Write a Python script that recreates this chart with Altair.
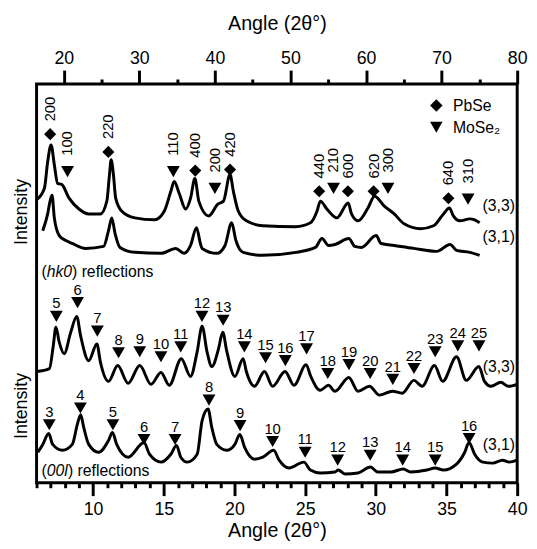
import altair as alt
import pandas as pd

FONT = "Liberation Sans"

# ---------------- (hk0) panel, top axis ----------------
hk0_33_angle = [16.5, 17.44, 17.87, 18.32, 18.75, 19.18, 19.72, 20.70, 22.01, 23.31,
                24.84, 25.70, 26.05, 26.27, 26.57, 26.87, 27.65, 29.40, 32.01, 33.31,
                34.17, 34.61, 35.27, 36.13, 36.78, 37.35, 37.87, 39.18, 40.39, 41.13,
                42.0, 42.44, 43.09, 44.17, 46.35, 50.69, 52.65, 53.52, 53.95, 54.82,
                56.13, 57.64, 58.08, 58.94, 60.25, 61.12, 62.42, 63.73, 65.03, 67.21,
                68.94, 70.25, 71.03, 71.55, 72.42, 73.73, 74.38, 75.03]
hk0_33_int = [288, 299, 326, 343, 323, 304, 303, 289, 278, 273,
              273, 286, 313, 328, 313, 289, 276, 269, 267, 276,
              296, 306, 294, 278, 289, 309, 286, 271, 283, 286,
              313, 296, 276, 266, 261, 260, 264, 276, 286, 278,
              269, 284, 273, 266, 279, 291, 281, 273, 263, 258,
              261, 273, 279, 271, 266, 268, 267, 264]

hk0_31_angle = [17.22, 17.87, 18.19, 18.45, 18.75, 19.40, 20.27, 21.13, 22.88, 25.27,
                25.92, 26.35, 26.79, 27.44, 29.40, 32.87, 34.82, 35.92, 36.78, 37.56,
                38.08, 38.30, 40.26, 41.34, 42.22, 42.78, 43.74, 46.35, 50.69, 53.30,
                54.17, 55.03, 55.90, 57.73, 58.51, 59.39, 61.34, 61.99, 63.73, 66.33,
                69.37, 71.12, 71.98, 73.73, 75.03]
hk0_31_int = [256, 273, 286, 292, 269, 251, 246, 243, 238, 240,
              256, 269, 253, 239, 234, 233, 238, 233, 241, 259,
              243, 238, 233, 241, 264, 246, 234, 231, 234, 239,
              248, 241, 242, 248, 240, 239, 251, 243, 241, 238,
              235, 242, 236, 234, 231]

pbse_angle = [18.2, 25.9, 37.4, 42.0, 53.8, 57.6, 61.0, 70.9]
pbse_int = [354, 336, 317, 318, 296, 296, 296, 289]
pbse_hkl = ["200", "220", "400", "420", "440", "600", "620", "640"]

mose2_hk0_angle = [20.5, 34.5, 40.0, 55.7, 62.9, 73.5]
mose2_hk0_int = [316, 316, 299, 299, 299, 288]
mose2_hk0_hkl = ["100", "110", "200", "210", "300", "310"]

# ---------------- (00l) panel, bottom axis ----------------
l00_33_angle = [6.0, 6.91, 7.18, 7.37, 7.60, 7.95, 8.42, 8.84, 9.12, 9.69,
                10.27, 10.51, 11.09, 11.74, 12.48, 13.30, 14.10, 14.80, 15.39, 16.24,
                16.89, 17.36, 17.71, 18.06, 18.40, 18.87, 19.17, 19.45, 20.03, 20.61,
                20.84, 21.42, 22.12, 22.70, 23.58, 24.21, 25.07, 25.37, 26.07, 26.65,
                27.11, 28.09, 28.74, 29.55, 30.25, 31.18, 31.87, 32.69, 33.27, 34.15,
                34.73, 35.71, 36.40, 37.29, 37.69, 38.15, 38.84, 39.38, 40.0]
l00_33_int = [113, 116, 139, 158, 143, 131, 153, 169, 149, 124,
              141, 123, 103, 119, 101, 119, 100, 112, 99, 126,
              108, 133, 159, 133, 118, 136, 153, 134, 108, 126,
              113, 98, 113, 98, 113, 99, 120, 109, 94, 99,
              93, 107, 93, 98, 89, 93, 91, 104, 98, 119,
              103, 128, 104, 118, 103, 98, 102, 98, 100]

l00_31_angle = [6.09, 6.44, 6.86, 7.14, 7.83, 8.53, 8.88, 9.12, 9.34, 9.69,
                10.39, 11.09, 11.37, 11.67, 12.48, 13.60, 13.99, 14.80, 15.50, 15.90,
                16.20, 16.66, 17.36, 17.71, 18.13, 18.40, 18.75, 19.45, 20.03, 20.38,
                20.72, 21.42, 22.01, 22.77, 23.16, 23.86, 24.91, 25.37, 26.07, 27.11,
                27.34, 27.81, 28.74, 29.62, 30.13, 31.07, 31.94, 32.46, 33.62, 34.20,
                34.78, 35.71, 36.29, 36.59, 36.99, 37.57, 38.27, 38.96, 39.43, 40.0]
l00_31_int = [31, 39, 50, 39, 33, 39, 59, 69, 56, 39,
              31, 43, 51, 39, 26, 41, 29, 21, 29, 38,
              26, 21, 29, 63, 75, 56, 39, 33, 39, 49,
              36, 24, 26, 33, 23, 15, 21, 13, 10, 11,
              13, 9, 10, 16, 11, 11, 14, 11, 13, 15,
              13, 19, 31, 41, 29, 21, 20, 23, 21, 23]

l33_mark_angle = [7.4, 8.9, 10.3, 11.8, 13.3, 14.8, 16.2, 17.7, 19.2, 20.7, 22.2,
                  23.6, 25.1, 26.6, 28.1, 29.6, 31.2, 32.7, 34.2, 35.8, 37.3]
l33_mark_int = [169, 183, 154, 132, 133, 128, 138, 169, 165, 138, 127,
                124, 136, 111, 120, 111, 105, 116, 133, 139, 139]
l33_mark_l = [str(v) for v in range(5, 26)]

l31_mark_angle = [6.9, 9.1, 11.4, 13.6, 15.8, 18.2, 20.4, 22.7, 25.0, 27.3, 29.6, 31.9, 34.2, 36.6]
l31_mark_int = [59, 76, 59, 44, 44, 84, 58, 42, 31, 23, 28, 23, 23, 45]
l31_mark_l = [str(v) for v in range(3, 17)]

# ---------------- build tables ----------------
def curves(a1, i1, a2, i2):
    return pd.concat([
        pd.DataFrame({"angle": a1, "intensity": i1, "sample": "(3,3)"}),
        pd.DataFrame({"angle": a2, "intensity": i2, "sample": "(3,1)"}),
    ])

top_curves = curves(hk0_33_angle, hk0_33_int, hk0_31_angle, hk0_31_int)
bot_curves = curves(l00_33_angle, l00_33_int, l00_31_angle, l00_31_int)
pbse_df = pd.DataFrame({"angle": pbse_angle, "intensity": pbse_int, "lab": pbse_hkl})
mose_top_df = pd.DataFrame({"angle": mose2_hk0_angle, "intensity": mose2_hk0_int, "lab": mose2_hk0_hkl})
mose_bot_df = pd.concat([
    pd.DataFrame({"angle": l33_mark_angle, "intensity": l33_mark_int, "lab": l33_mark_l}),
    pd.DataFrame({"angle": l31_mark_angle, "intensity": l31_mark_int, "lab": l31_mark_l}),
])

TITLE = "Angle (2θ°)"

top_axis = alt.Axis(
    orient="top", values=list(range(20, 81, 5)),
    labelExpr="datum.value % 10 === 0 ? datum.label : ''",
    tickSize={"condition": {"test": "datum.value % 10 === 0", "value": 14}, "value": 5},
    tickWidth=3, tickColor="black", domain=False, grid=False,
    labelFont=FONT, labelFontSize=18, labelColor="black", labelPadding=3,
    labelOverlap=False, labelFlush=False,
    title=TITLE, titleFont=FONT, titleFontSize=20, titleFontWeight="normal",
    titleColor="black", titleBaseline="middle", titleY=-61,
)
bot_axis = alt.Axis(
    orient="bottom", values=list(range(6, 41)),
    labelExpr="datum.value % 5 === 0 ? datum.label : ''",
    tickSize={"condition": {"test": "datum.value % 5 === 0", "value": 13}, "value": 5},
    tickWidth=3, tickColor="black", domain=False, grid=False,
    labelFont=FONT, labelFontSize=18, labelColor="black", labelPadding=5,
    labelOverlap=False, labelFlush=False,
    title=TITLE, titleFont=FONT, titleFontSize=20, titleFontWeight="normal",
    titleColor="black", titleBaseline="middle", titleY=49,
)
top_scale = alt.Scale(domain=[16.4, 80], nice=False, zero=False)
bot_scale = alt.Scale(domain=[6, 40], nice=False, zero=False)
y_scale = alt.Scale(domain=[0, 405], nice=False, zero=False)


def X(top=True):
    return alt.X("angle:Q", scale=top_scale if top else bot_scale,
                 axis=top_axis if top else bot_axis, title=TITLE)


def Y():
    return alt.Y("intensity:Q", scale=y_scale, axis=None)


def txt(data, top, **kw):
    base = dict(font=FONT, color="black", fontSize=16, align="left", baseline="middle")
    base.update(kw)
    return alt.Chart(data).mark_text(**base).encode(x=X(top), y=Y(), text="lab:N")


# ---------- top panel layers ----------
t_lines = alt.Chart(top_curves).mark_line(interpolate="monotone", color="black", strokeWidth=3).encode(
    x=X(True), y=Y(), detail="sample:N")
t_dia = alt.Chart(pbse_df).mark_point(shape="diamond", filled=True, size=150, color="black", opacity=1).encode(
    x=X(True), y=Y())
t_tri = alt.Chart(mose_top_df).mark_point(shape="triangle-down", filled=True, size=170, color="black", opacity=1).encode(
    x=X(True), y=Y())
t_dia_lab = txt(pbse_df, True, angle=270, dx=13, fontSize=15)
t_tri_lab = txt(mose_top_df, True, angle=270, dx=16, fontSize=15)

legend_marks = pd.DataFrame({"angle": [69.3, 69.3], "intensity": [383, 361], "shape": ["diamond", "triangle-down"]})
legend_text = pd.DataFrame({"angle": [71.5, 71.5], "intensity": [383, 360], "lab": ["PbSe", "MoSe₂"]})
t_leg = alt.Chart(legend_marks).mark_point(filled=True, size=160, color="black", opacity=1).encode(
    x=X(True), y=Y(), shape=alt.Shape("shape:N", scale=None, legend=None))
t_leg_txt = txt(legend_text, True)

top_sample_txt = pd.DataFrame({"angle": [79.7, 79.7], "intensity": [281, 249], "lab": ["(3,3)", "(3,1)"]})
t_samp = txt(top_sample_txt, True, align="right")

hk0_pos = pd.DataFrame({"angle": [17.05], "intensity": [214], "lab": ["("]})
t_r1 = txt(hk0_pos, True)
t_r2 = txt(hk0_pos.assign(lab="hk0"), True, dx=5.3, fontStyle="italic")
t_r3 = txt(hk0_pos.assign(lab=") reflections"), True, dx=31)

top_group = alt.layer(t_lines, t_dia, t_tri, t_dia_lab, t_tri_lab, t_leg, t_leg_txt, t_samp, t_r1, t_r2, t_r3)

# ---------- bottom panel layers ----------
b_lines = alt.Chart(bot_curves).mark_line(interpolate="monotone", color="black", strokeWidth=3).encode(
    x=X(False), y=Y(), detail="sample:N")
b_tri = alt.Chart(mose_bot_df).mark_point(shape="triangle-down", filled=True, size=170, color="black", opacity=1).encode(
    x=X(False), y=Y())
b_tri_lab = txt(mose_bot_df, False, align="center", dy=-13, fontSize=15)
bot_sample_txt = pd.DataFrame({"angle": [39.85, 39.85], "intensity": [117, 38], "lab": ["(3,3)", "(3,1)"]})
b_samp = txt(bot_sample_txt, False, align="right")
l00_pos = pd.DataFrame({"angle": [6.35], "intensity": [12], "lab": ["("]})
b_r1 = txt(l00_pos, False)
b_r2 = txt(l00_pos.assign(lab="00l"), False, dx=5.3, fontStyle="italic")
b_r3 = txt(l00_pos.assign(lab=") reflections"), False, dx=26.8)

bot_group = alt.layer(b_lines, b_tri, b_tri_lab, b_samp, b_r1, b_r2, b_r3)

# ---------- y labels ----------
ylab = pd.DataFrame({"intensity": [275, 78], "lab": ["Intensity", "Intensity"]})
y_txt = alt.Chart(ylab).mark_text(font=FONT, fontSize=18, color="black", angle=270,
                                   align="center", baseline="middle").encode(
    x=alt.value(-15), y=Y(), text="lab:N")

chart = alt.layer(top_group, bot_group, y_txt).resolve_scale(x="independent").properties(
    width=488, height=405,
    autosize=alt.AutoSizeParams(type="none"),
    padding={"left": 29, "top": 73, "right": 12, "bottom": 55},
    background="white",
).configure_view(stroke="black", strokeWidth=3)

chart.save("out.html", embed_options={"renderer": "svg", "actions": False})
